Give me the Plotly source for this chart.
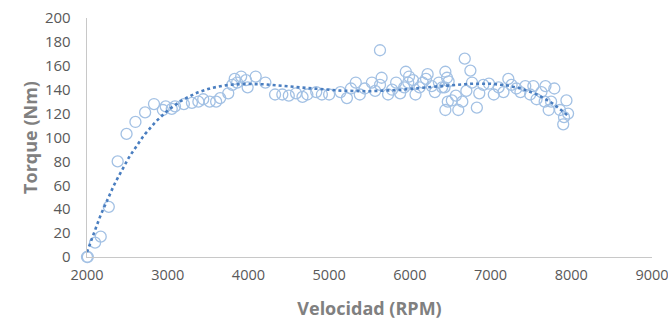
import numpy as np
import plotly.graph_objects as go

rpm = [2000, 2010, 2100, 2170, 2270, 2380, 2490, 2600, 2720, 2830, 2940, 2975, 3050, 3090,
       3200, 3300, 3380, 3440, 3520, 3600, 3650, 3750, 3800, 3830, 3860, 3910, 3970, 3990,
       4090, 4210, 4330, 4420, 4500, 4590, 4670, 4730, 4840, 4910, 5000, 5140, 5220, 5270,
       5330, 5380, 5440, 5530, 5570, 5630, 5650, 5630, 5730, 5780, 5830, 5880, 5930, 5980,
       5950, 5990, 6040, 6070, 6120, 6160, 6200, 6220, 6270, 6310, 6360, 6400, 6430, 6440,
       6460, 6480, 6470, 6440, 6520, 6570, 6600, 6650, 6700, 6680, 6770, 6750, 6830, 6860,
       6910, 6980, 7040, 7100, 7160, 7220, 7260, 7320, 7370, 7430, 7490, 7530, 7570, 7630,
       7670, 7720, 7750, 7680, 7790, 7860, 7910, 7900, 7940, 7960]
torque = [0, 0, 12, 17, 42, 80, 103, 113, 121, 128, 123, 126, 124, 126,
          128, 129, 130, 132, 130, 130, 133, 137, 144, 149, 146, 151, 148, 142,
          151, 146, 136, 136, 135, 137, 134, 136, 138, 136, 136, 138, 133, 141,
          146, 136, 141, 146, 139, 144, 150, 173, 136, 140, 146, 137, 142, 146,
          155, 151, 148, 136, 142, 146, 149, 153, 143, 138, 146, 142, 142, 155,
          150, 147, 130, 123, 131, 135, 123, 130, 139, 166, 146, 156, 125, 137,
          144, 145, 136, 142, 138, 149, 144, 141, 138, 143, 136, 143, 132, 138,
          130, 123, 130, 143, 141, 123, 117, 111, 131, 120]

x_ticks = [2000, 3000, 4000, 5000, 6000, 7000, 8000, 9000]
y_ticks = [0, 20, 40, 60, 80, 100, 120, 140, 160, 180, 200]

# polynomial trendline fitted to the data
coef = np.polyfit(rpm, torque, 4)
tx = np.linspace(min(rpm), max(rpm), 200)
ty = np.polyval(coef, tx)

fig = go.Figure()
fig.add_trace(go.Scatter(
    x=rpm, y=torque, mode="markers", cliponaxis=False,
    marker=dict(symbol="circle-open", size=11, color="#a3c1e4",
                line=dict(width=1.3, color="#a3c1e4")),
    showlegend=False))
fig.add_trace(go.Scatter(
    x=tx, y=ty, mode="lines",
    line=dict(color="#4a7ec0", width=2.6, dash="dot"),
    showlegend=False))

font_family = "Open Sans, Lato, sans-serif"
fig.update_layout(
    width=668, height=322,
    margin=dict(l=87, r=16, t=18, b=65),
    paper_bgcolor="white", plot_bgcolor="white",
    font=dict(family=font_family, color="#595959", size=15),
    xaxis=dict(range=[2000, 9000], tickvals=x_ticks, showgrid=False, zeroline=False,
               automargin=False, ticklabeloverflow="allow",
               showline=True, linecolor="#c8c8c8", linewidth=1.3, ticks="",
               ticklabelstandoff=4,
               tickfont=dict(size=14.5, color="#595959"),
               title=dict(text="Velocidad (RPM)", standoff=19,
                          font=dict(size=18, color="#808080", family=font_family, weight="bold"))),
    yaxis=dict(range=[0, 200], tickvals=y_ticks, showgrid=False, zeroline=False,
               automargin=False, ticklabeloverflow="allow",
               showline=True, linecolor="#c8c8c8", linewidth=1.3, ticks="",
               ticklabelstandoff=12,
               tickfont=dict(size=15, color="#595959"),
               title=dict(text="Torque (Nm)", standoff=2,
                          font=dict(size=18, color="#808080", family=font_family, weight="bold"))),
)

fig.write_html("out.html",
               config={"displayModeBar": False, "staticPlot": True},
               post_script="document.body.style.margin='0';document.body.style.overflow='hidden';")
